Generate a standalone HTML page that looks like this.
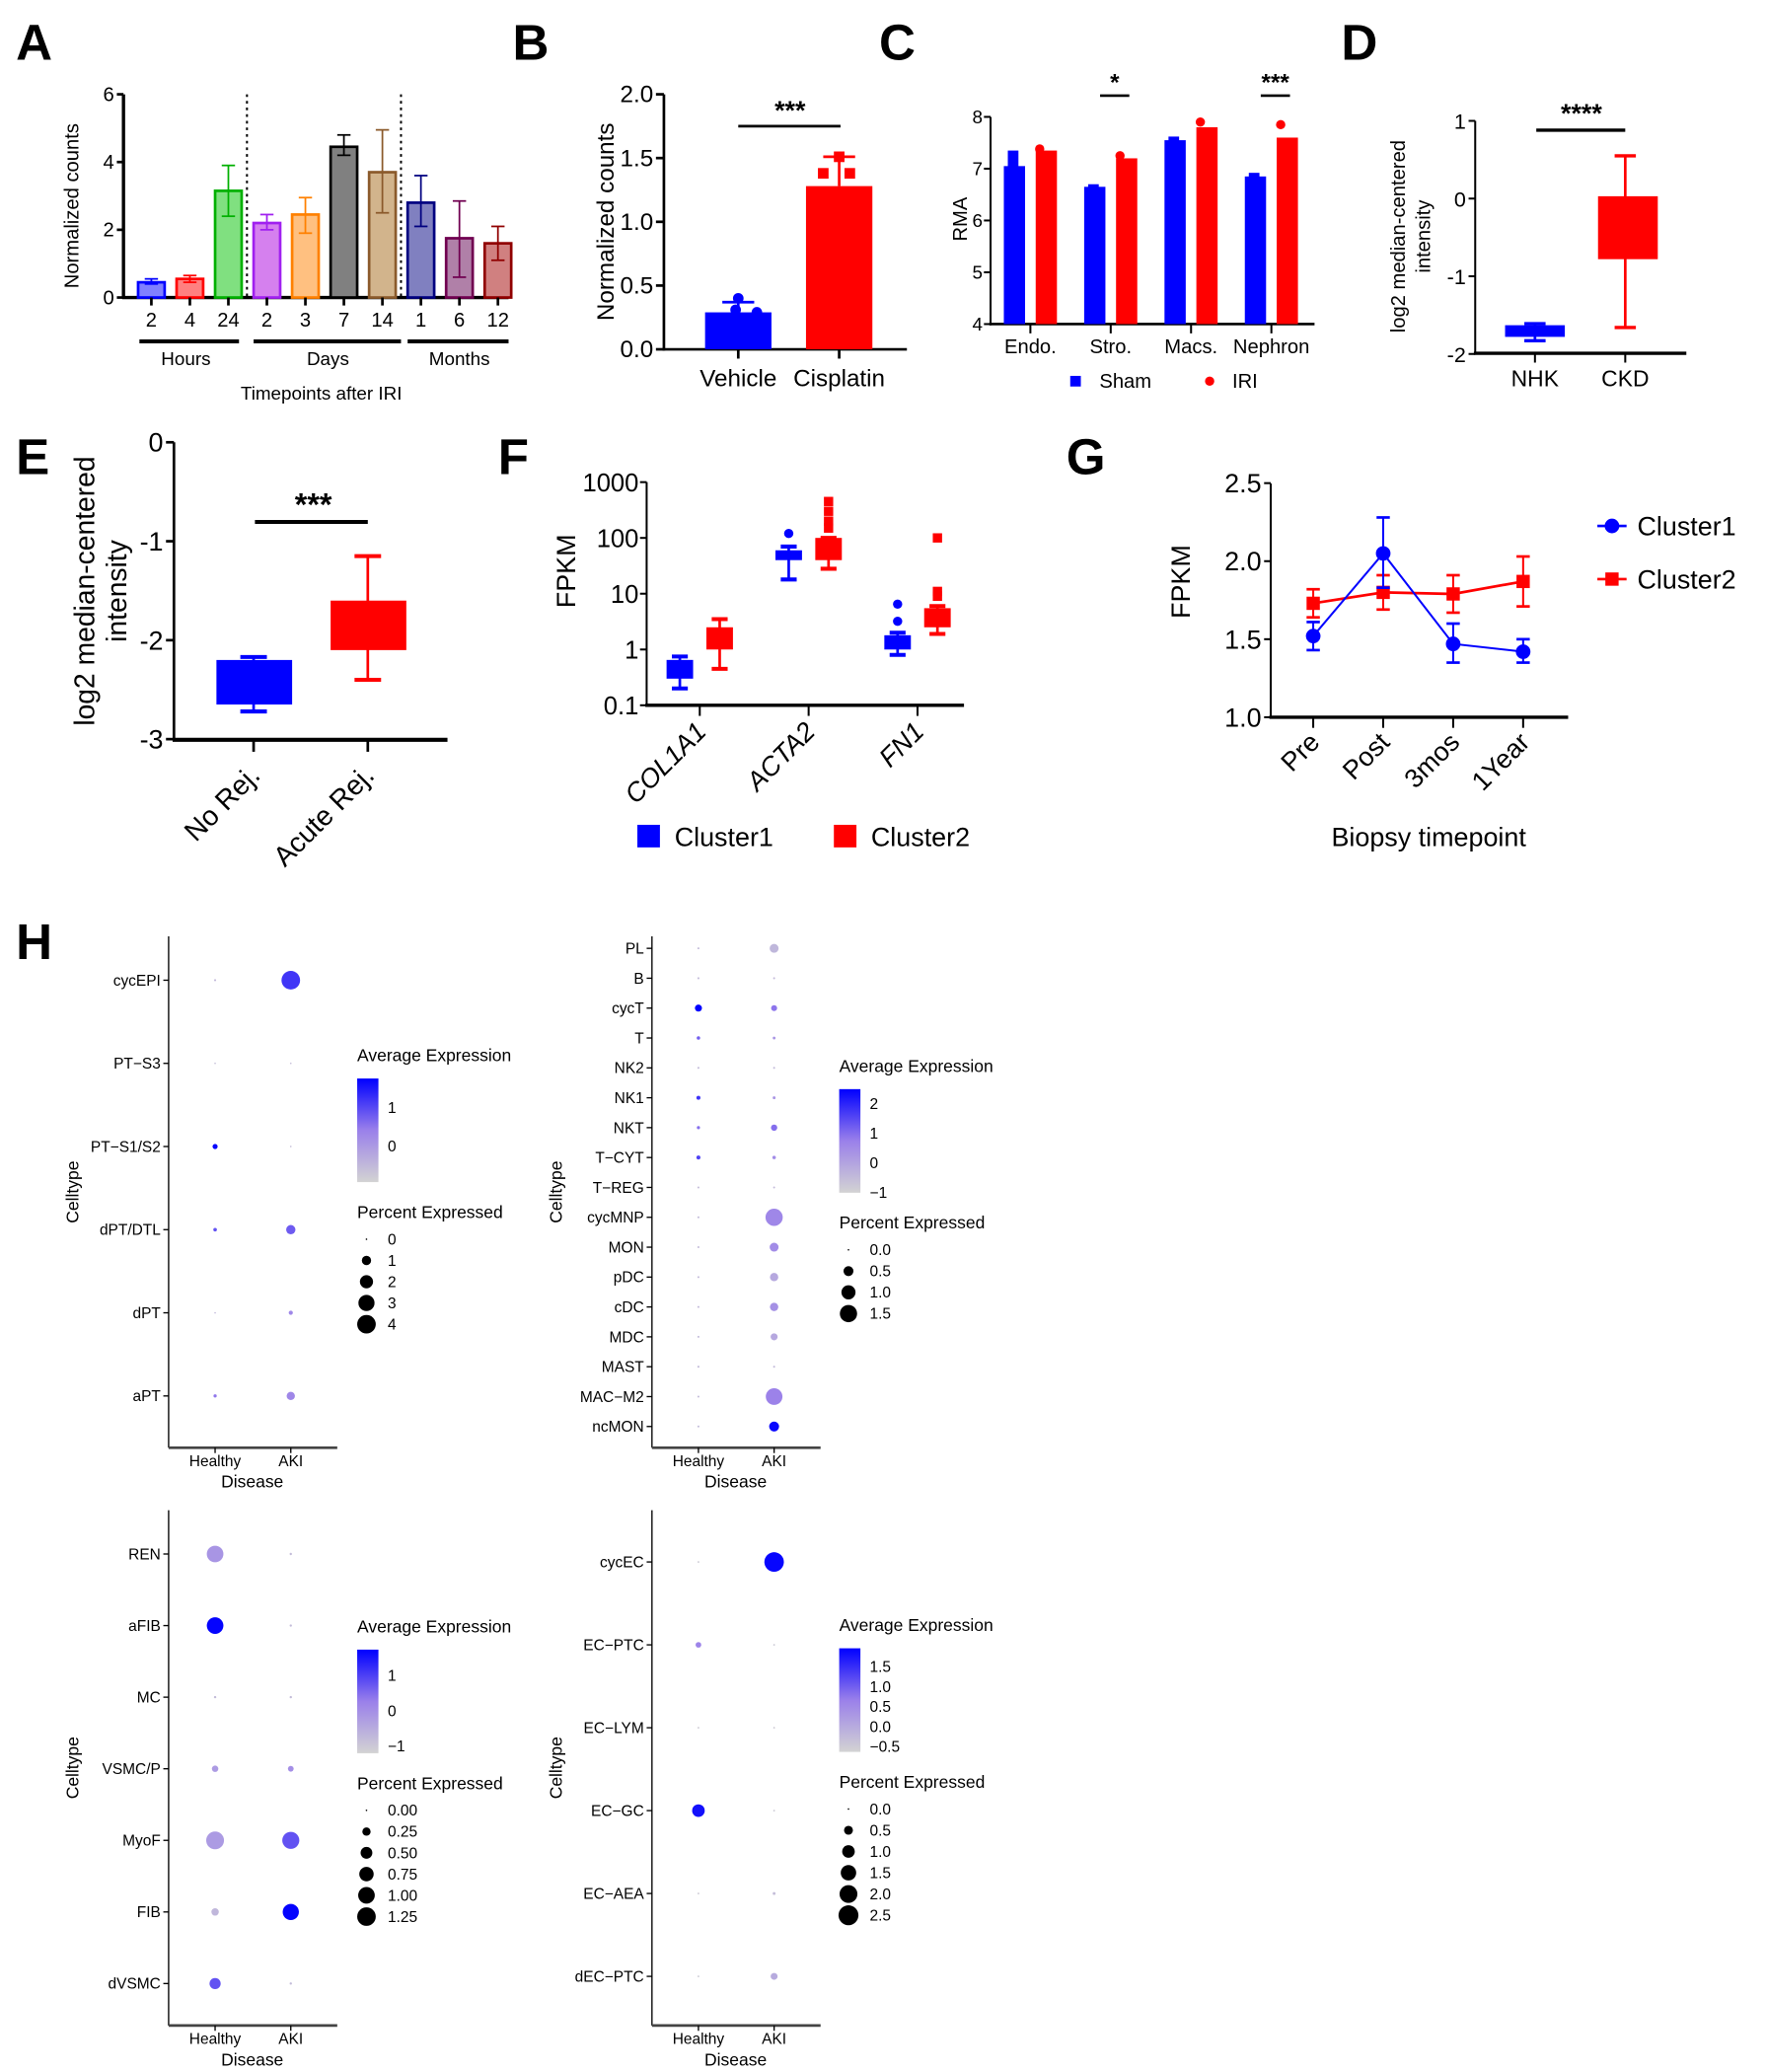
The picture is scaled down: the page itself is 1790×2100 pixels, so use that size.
<!DOCTYPE html>
<html><head><meta charset="utf-8">
<style>
html,body{margin:0;padding:0;background:#fff;}
svg{display:block;font-family:"Liberation Sans",sans-serif;}
.pl{font-weight:bold;font-size:38px;}
</style></head>
<body>
<svg id="fig" width="1790" height="2100" viewBox="0 0 1330 1560" preserveAspectRatio="none">
<rect x="0" y="0" width="1330" height="1560" fill="#fff"/>
<text class="pl" x="12" y="45">A</text>
<text class="pl" x="386" y="45">B</text>
<text class="pl" x="662" y="45">C</text>
<text class="pl" x="1010" y="45">D</text>
<text class="pl" x="12" y="357">E</text>
<text class="pl" x="375" y="357">F</text>
<text class="pl" x="803" y="357">G</text>
<text class="pl" x="12" y="722">H</text>

<text x="0" y="0" font-size="15" text-anchor="middle" transform="translate(59,155) rotate(-90)">Normalized counts</text>
<text x="140" y="275" font-size="14" text-anchor="middle">Hours</text>
<text x="247" y="275" font-size="14" text-anchor="middle">Days</text>
<text x="346" y="275" font-size="14" text-anchor="middle">Months</text>
<text x="242" y="301" font-size="14" text-anchor="middle">Timepoints after IRI</text>
<line x1="105" y1="257" x2="180" y2="257" stroke="#000" stroke-width="3"/>
<line x1="191" y1="257" x2="302" y2="257" stroke="#000" stroke-width="3"/>
<line x1="307" y1="257" x2="383" y2="257" stroke="#000" stroke-width="3"/>

<text x="0" y="0" font-size="18" text-anchor="middle" transform="translate(462,167) rotate(-90)">Normalized counts</text>
<text x="0" y="0" font-size="15" text-anchor="middle" transform="translate(728,165) rotate(-90)">RMA</text>
<text x="0" y="0" font-size="15" text-anchor="middle" transform="translate(1058,178) rotate(-90)">log2 median-centered</text>
<text x="0" y="0" font-size="15" text-anchor="middle" transform="translate(1077,178) rotate(-90)">intensity</text>
<text x="0" y="0" font-size="21" text-anchor="middle" transform="translate(71,445) rotate(-90)">log2 median-centered</text>
<text x="0" y="0" font-size="21" text-anchor="middle" transform="translate(95,445) rotate(-90)">intensity</text>
<text x="0" y="0" font-size="20" text-anchor="middle" transform="translate(433,430) rotate(-90)">FPKM</text>
<text x="0" y="0" font-size="20" text-anchor="middle" transform="translate(896,438) rotate(-90)">FPKM</text>
<text x="1076" y="637" font-size="20" text-anchor="middle">Biopsy timepoint</text>
</svg>
<script>
const NS='http://www.w3.org/2000/svg';
const svg=document.getElementById('fig');
function mk(tag,attrs){const e=document.createElementNS(NS,tag);for(const k in attrs)e.setAttribute(k,attrs[k]);svg.appendChild(e);return e;}
function tx(x,y,s,size,anchor,extra){const e=mk('text',Object.assign({x:x,y:y,'font-size':size,'text-anchor':anchor||'start'},extra||{}));e.textContent=s;return e;}
function ln(x1,y1,x2,y2,c,w){return mk('line',{x1:x1,y1:y1,x2:x2,y2:y2,stroke:c||'#000','stroke-width':w||1.5});}

// ===== Panel A data =====
const aCats=['2','4','24','2','3','7','14','1','6','12'];
const aMeans=[0.45,0.55,3.15,2.2,2.45,4.45,3.7,2.8,1.75,1.6];
const aLow=[0.4,0.45,2.4,2.0,1.9,4.2,2.5,2.1,0.6,1.1];
const aHigh=[0.55,0.65,3.9,2.45,2.95,4.8,4.95,3.6,2.85,2.1];
const aTicks=[0,2,4,6];
const aFill=['#8080ff','#ff8080','#80e080','#d580ee','#ffc080','#808080','#d2b48c','#8080c0','#b080a8','#d08080'];
const aEdge=['#0000ff','#ff0000','#00b000','#a020f0','#ff8000','#000000','#8b5a2b','#000080','#700050','#900000'];
const yA=v=>224-v*25.5;
const xA=i=>114+i*29;
ln(93,71,93,225,'#000',2.5);
ln(92,224,383,224,'#000',2.5);
aTicks.forEach(t=>{
  let l=ln(88,yA(t),93,yA(t),'#000',2);
  
  
  let e=tx(86,yA(t)+5,String(t),15,'end');
  
  
});
[186,302].forEach(x=>{let l=ln(x,71,x,224,'#000',1.5);l.setAttribute('stroke-dasharray','2,3');
  
  });
aCats.forEach((c,i)=>{
  const x=xA(i);
  let b=mk('rect',{x:x-10,y:yA(aMeans[i]),width:20,height:224-yA(aMeans[i]),fill:aFill[i],stroke:aEdge[i],'stroke-width':2});
  
  
  let e=ln(x,yA(aLow[i]),x,yA(aHigh[i]),aEdge[i],1.3);
  
  
  ln(x-5,yA(aHigh[i]),x+5,yA(aHigh[i]),aEdge[i],1.3);
  ln(x-5,yA(aLow[i]),x+5,yA(aLow[i]),aEdge[i],1.3);
  ln(x,224,x,230,'#000',2);
  let t=tx(x,246,c,15,'middle');
  
  
});

// ===== Panel B =====
const bCats=['Vehicle','Cisplatin'];
const bMeans=[0.29,1.28];
const bHigh=[0.37,1.51];
const bPtsV=[0.4,0.31,0.29];
const bPtsC=[1.51,1.38,1.38];
const bTicks=[0,0.5,1.0,1.5,2.0];
const bColors=['#0000ff','#ff0000'];
const yB=v=>263-v*96;
const xB=i=>556+i*76;
ln(500,71,500,264,'#000',2);
ln(499,263,683,263,'#000',2);
bTicks.forEach(t=>{
  ln(494,yB(t),500,yB(t),'#000',2);
  let e=tx(492,yB(t)+6,t.toFixed(1),18,'end');
  
  
});
bCats.forEach((c,i)=>{
  const x=xB(i);
  let b=mk('rect',{x:x-25,y:yB(bMeans[i]),width:50,height:263-yB(bMeans[i]),fill:bColors[i]});
  
  
  ln(x,yB(bMeans[i]),x,yB(bHigh[i]),bColors[i],2);
  ln(x-12,yB(bHigh[i]),x+12,yB(bHigh[i]),bColors[i],2);
  ln(x,263,x,270,'#000',2);
  let t=tx(x,291,c,18,'middle');
  
  
});
bPtsV.forEach((v,j)=>{let p=mk('circle',{cx:xB(0)+[0,-2,14][j],cy:yB(v),r:4,fill:'#0000ff'});
  
  });
bPtsC.forEach((v,j)=>{let p=mk('rect',{x:xB(1)+[0,-12,8][j]-4,y:yB(v)-4,width:8,height:8,fill:'#ff0000'});
  
  });
ln(556,95,633,95,'#000',2);
tx(595,90,'***',20,'middle',{'font-weight':'bold'});

// ===== Panel C =====
const cCats=['Endo.','Stro.','Macs.','Nephron'];
const cSham=[7.05,6.65,7.55,6.85];
const cShamHi=[7.35,6.7,7.62,6.92];
const cIri=[7.35,7.2,7.8,7.6];
const cIriPt=[7.38,7.25,7.9,7.85];
const cTicks=[4,5,6,7,8];
const yC=v=>244-(v-4)*39;
const xC=i=>776+i*60.5;
ln(746,88,746,245,'#000',1.5);
ln(745,244,990,244,'#000',2);
cTicks.forEach(t=>{
  ln(741,yC(t),746,yC(t),'#000',1.5);
  let e=tx(740,yC(t)+5,String(t),14,'end');
  
  
});
cCats.forEach((c,i)=>{
  const x=xC(i);
  let b=mk('rect',{x:x-20,y:yC(cSham[i]),width:16,height:244-yC(cSham[i]),fill:'#0000ff'});
  
  
  mk('rect',{x:x-17,y:yC(cShamHi[i]),width:8,height:yC(cSham[i])-yC(cShamHi[i])+1,fill:'#0000ff'});
  let r=mk('rect',{x:x+4,y:yC(cIri[i]),width:16,height:244-yC(cIri[i]),fill:'#ff0000'});
  
  
  let p=mk('circle',{cx:x+7,cy:yC(cIriPt[i]),r:3.5,fill:'#ff0000'});
  
  
  ln(x,244,x,251,'#000',1.5);
  let t=tx(x,266,c,15,'middle');
  
  
});
ln(xC(1)-8,72,xC(1)+14,72,'#000',2);
tx(xC(1)+3,68,'*',18,'middle',{'font-weight':'bold'});
ln(xC(3)-8,72,xC(3)+14,72,'#000',2);
tx(xC(3)+3,68,'***',18,'middle',{'font-weight':'bold'});
let cl1=mk('rect',{x:806,y:283,width:8,height:8,fill:'#0000ff'});


tx(828,292,'Sham',15,'start');
let cl2=mk('circle',{cx:911,cy:287,r:3.5,fill:'#ff0000'});


tx(928,292,'IRI',15,'start');

// ===== Panel D =====
const dCats=['NHK','CKD'];
const dQ1=[-1.78,-0.78];
const dQ3=[-1.63,0.03];
const dMin=[-1.83,-1.66];
const dMax=[-1.61,0.55];
const dTicks=[-2,-1,0,1];
const dColors=['#0000ff','#ff0000'];
const yD=v=>91+(1-v)*58.5;
const xD=i=>1156+i*68;
ln(1111,91,1111,267,'#000',1.5);
ln(1110,266,1270,266,'#000',2.5);
dTicks.forEach(t=>{
  ln(1106,yD(t),1111,yD(t),'#000',1.5);
  let e=tx(1104,yD(t)+6,String(t),16,'end');
  
  
});
dCats.forEach((c,i)=>{
  const x=xD(i);const w=i?45:45;
  ln(x,yD(dMin[i]),x,yD(dMax[i]),dColors[i],2);
  ln(x-8,yD(dMin[i]),x+8,yD(dMin[i]),dColors[i],2.5);
  ln(x-8,yD(dMax[i]),x+8,yD(dMax[i]),dColors[i],2.5);
  let b=mk('rect',{x:x-w/2+(i?2:0),y:yD(dQ3[i]),width:w,height:yD(dQ1[i])-yD(dQ3[i]),fill:dColors[i]});
  
  
  ln(x,266,x,273,'#000',1.5);
  let t=tx(x,291,c,17,'middle');
  
  
});
ln(1157,98,1224,98,'#000',2.5);
tx(1191,92,'****',20,'middle',{'font-weight':'bold'});

// ===== Panel E =====
const eCats=['No Rej.','Acute Rej.'];
const eQ1=[-2.65,-2.1];
const eQ3=[-2.2,-1.6];
const eMin=[-2.72,-2.4];
const eMax=[-2.17,-1.15];
const eTicks=[-3,-2,-1,0];
const eColors=['#0000ff','#ff0000'];
const yE=v=>333-v*74.5;
const xE=i=>191+i*86;
ln(131,333,131,558,'#000',2);
ln(130,557,337,557,'#000',3);
eTicks.forEach(t=>{
  ln(125,yE(t),131,yE(t),'#000',2);
  let e=tx(123,yE(t)+7,String(t),20,'end');
  
  
});
eCats.forEach((c,i)=>{
  const x=xE(i);
  ln(x,yE(eMin[i]),x,yE(eMax[i]),eColors[i],2);
  ln(x-10,yE(eMin[i]),x+10,yE(eMin[i]),eColors[i],3);
  ln(x-10,yE(eMax[i]),x+10,yE(eMax[i]),eColors[i],3);
  let b=mk('rect',{x:x-28,y:yE(eQ3[i]),width:57,height:yE(eQ1[i])-yE(eQ3[i]),fill:eColors[i]});
  
  
  ln(x,557,x,566,'#000',2);
  let t=tx(0,0,c,21,'end',{transform:'translate('+(x+6)+',585) rotate(-45)'});
  
  
});
ln(192,393,277,393,'#000',3);
tx(236,388,'***',24,'middle',{'font-weight':'bold'});

// ===== Panel F =====
const fCats=['COL1A1','ACTA2','FN1'];
const f1Q1=[0.3,40,1.0], f1Q3=[0.65,60,1.8], f1Min=[0.2,18,0.8], f1Max=[0.75,70,2.0];
const f2Q1=[1.0,40,2.5], f2Q3=[2.5,100,5.5], f2Min=[0.45,28,1.9], f2Max=[3.5,100,6.0];
const f1Out=[[],[120],[3.2,6.5]];
const f2Out=[[],[150,200,300,450],[9,11,100]];
const fTicks=[0.1,1,10,100,1000];
const fTickLabels=['0.1','1','10','100','1000'];
const yF=v=>531-(Math.log10(v)+1)*42;
const xF=i=>527+i*82;
ln(487,363,487,532,'#000',1.5);
ln(486,531,726,531,'#000',2.5);
fTicks.forEach((t,j)=>{
  ln(482,yF(t),487,yF(t),'#000',1.5);
  let e=tx(481,yF(t)+7,fTickLabels[j],19,'end');
  
  
});
function fbox(x,q1,q3,mn,mx,out,col,nm){
  ln(x,yF(mn),x,yF(mx),col,2);
  ln(x-6,yF(mn),x+6,yF(mn),col,3);
  ln(x-6,yF(mx),x+6,yF(mx),col,3);
  let b=mk('rect',{x:x-10,y:yF(q3),width:20,height:Math.max(yF(q1)-yF(q3),3),fill:col});
  
  
  out.forEach(v=>{let o=mk('rect',{x:x-3.5,y:yF(v)-3.5,width:7,height:7,rx:col==='#0000ff'?3.5:0,fill:col});
    
    });
}
fCats.forEach((c,i)=>{
  const x=xF(i);
  fbox(x-15,f1Q1[i],f1Q3[i],f1Min[i],f1Max[i],f1Out[i],'#0000ff','f-box-cluster1');
  fbox(x+15,f2Q1[i],f2Q3[i],f2Min[i],f2Max[i],f2Out[i],'#ff0000','f-box-cluster2');
  ln(x,531,x,539,'#000',1.5);
  let t=tx(0,0,c,20,'end',{'font-style':'italic',transform:'translate('+(x+6)+',552) rotate(-45)'});
  
  
});
let fl1=mk('rect',{x:480,y:621,width:17,height:17,fill:'#0000ff'});


tx(508,637,'Cluster1',20,'start');
let fl2=mk('rect',{x:628,y:621,width:17,height:17,fill:'#ff0000'});


tx(656,637,'Cluster2',20,'start');

// ===== Panel G =====
const gCats=['Pre','Post','3mos','1Year'];
const g1=[1.52,2.05,1.47,1.42];
const g1Lo=[1.43,1.83,1.35,1.35];
const g1Hi=[1.61,2.28,1.6,1.5];
const g2=[1.73,1.8,1.79,1.87];
const g2Lo=[1.64,1.69,1.67,1.71];
const g2Hi=[1.82,1.91,1.91,2.03];
const gTicks=[1.0,1.5,2.0,2.5];
const yG=v=>540-(v-1)*117.5;
const xG=i=>989+i*52.7;
ln(957,364,957,541,'#000',1.5);
ln(956,540,1181,540,'#000',2.5);
gTicks.forEach(t=>{
  ln(952,yG(t),957,yG(t),'#000',1.5);
  let e=tx(950,yG(t)+7,t.toFixed(1),20,'end');
  
  
});
function gSeries(vals,lo,hi,col,mark,nm){
  let pts=vals.map((v,i)=>xG(i)+','+yG(v)).join(' ');
  let pl=mk('polyline',{points:pts,fill:'none',stroke:col,'stroke-width':mark==='sq'?2:1.5});
  
  
  vals.forEach((v,i)=>{
    const x=xG(i);
    ln(x,yG(lo[i]),x,yG(hi[i]),col,1.5);
    ln(x-5,yG(lo[i]),x+5,yG(lo[i]),col,2);
    ln(x-5,yG(hi[i]),x+5,yG(hi[i]),col,2);
    let m=mark==='sq'?mk('rect',{x:x-5,y:yG(v)-5,width:10,height:10,fill:col}):mk('circle',{cx:x,cy:yG(v),r:5.5,fill:col});
    
    
  });
}
gSeries(g2,g2Lo,g2Hi,'#ff0000','sq','g-cluster2');
gSeries(g1,g1Lo,g1Hi,'#0000ff','ci','g-cluster1');
gCats.forEach((c,i)=>{
  const x=xG(i);
  ln(x,540,x,548,'#000',1.5);
  let t=tx(0,0,c,20,'end',{transform:'translate('+(x+6)+',560) rotate(-45)'});
  
  
});
ln(1203,396,1225,396,'#0000ff',2);
let gl1=mk('circle',{cx:1214,cy:396,r:5.5,fill:'#0000ff'});


tx(1233,403,'Cluster1',20,'start');
ln(1203,436,1225,436,'#ff0000',2);
let gl2=mk('rect',{x:1209,y:431,width:10,height:10,fill:'#ff0000'});


tx(1233,443,'Cluster2',20,'start');

// ===== Panel H dot plots =====
const hCols=['Healthy','AKI'];
const h1Rows=['cycEPI','PT\u2212S3','PT\u2212S1/S2','dPT/DTL','dPT','aPT'];
const h1PctH=[0.05,0.02,0.3,0.15,0.03,0.12];
const h1PctA=[4.0,0.03,0.03,1.0,0.2,0.8];
const h1ExpH=[-0.5,-0.6,1.7,0.9,-0.5,0.5];
const h1ExpA=[1.2,-0.6,-0.6,0.8,0.3,0.3];
const h2Rows=['PL','B','cycT','T','NK2','NK1','NKT','T\u2212CYT','T\u2212REG','cycMNP','MON','pDC','cDC','MDC','MAST','MAC\u2212M2','ncMON'];
const h2PctH=[0.02,0.02,0.25,0.06,0.02,0.08,0.05,0.08,0.02,0.02,0.02,0.02,0.02,0.02,0.02,0.02,0.02];
const h2PctA=[0.4,0.02,0.18,0.04,0.02,0.04,0.2,0.06,0.02,1.5,0.4,0.35,0.35,0.25,0.02,1.4,0.5];
const h2ExpH=[-0.5,-0.5,2.5,1.2,-0.5,1.8,1.0,1.6,-0.5,-0.5,-0.5,-0.5,-0.5,-0.5,-0.5,-0.5,-0.5];
const h2ExpA=[-0.4,-0.5,0.9,0.3,-0.5,0.3,1.0,0.5,-0.5,0.6,0.5,-0.1,0.4,-0.1,-0.5,0.7,2.4];
const h3Rows=['REN','aFIB','MC','VSMC/P','MyoF','FIB','dVSMC'];
const h3PctH=[1.0,1.0,0.02,0.15,1.15,0.2,0.45];
const h3PctA=[0.02,0.02,0.02,0.12,1.05,0.95,0.02];
const h3ExpH=[-0.1,1.7,-0.8,-0.2,-0.2,-0.7,0.8];
const h3ExpA=[-0.8,-0.8,-0.8,0.0,0.8,1.7,-0.8];
const h4Rows=['cycEC','EC\u2212PTC','EC\u2212LYM','EC\u2212GC','EC\u2212AEA','dEC\u2212PTC'];
const h4PctH=[0.02,0.2,0.02,1.0,0.02,0.02];
const h4PctA=[2.4,0.02,0.02,0.02,0.05,0.3];
const h4ExpH=[-0.5,0.6,-0.5,1.8,-0.5,-0.5];
const h4ExpA=[1.9,-0.5,-0.5,-0.5,-0.3,0.0];
const h1ExpTicks=[0,1], h2ExpTicks=[-1,0,1,2], h3ExpTicks=[-1,0,1], h4ExpTicks=[-0.5,0,0.5,1,1.5];
const h1PctTicks=[0,1,2,3,4], h2PctTicks=[0,0.5,1,1.5], h3PctTicks=[0,0.25,0.5,0.75,1,1.25], h4PctTicks=[0,0.5,1,1.5,2,2.5];

let gd=mk('defs',{});
let lg=document.createElementNS(NS,'linearGradient');
lg.setAttribute('id','hgrad');lg.setAttribute('x1','0');lg.setAttribute('y1','1');lg.setAttribute('x2','0');lg.setAttribute('y2','0');
[['0','#d3d3d3'],['0.5','#9a80ea'],['1','#0000ff']].forEach(s=>{const st=document.createElementNS(NS,'stop');st.setAttribute('offset',s[0]);st.setAttribute('stop-color',s[1]);lg.appendChild(st);});
gd.appendChild(lg);

function hcol(v,mn,mx){let t=Math.max(0,Math.min(1,(v-mn)/(mx-mn)));
  let r,g,b;
  if(t<0.5){let u=t/0.5;r=211+(154-211)*u;g=211+(128-211)*u;b=211+(234-211)*u;}
  else{let u=(t-0.5)/0.5;r=154*(1-u);g=128*(1-u);b=234+(255-234)*u;}
  return 'rgb('+Math.round(r)+','+Math.round(g)+','+Math.round(b)+')';}

function dotplot(cfg){
  const {ax,top,bot,rowY,rows,pH,pA,eH,eA,eMin,eMax,pMax,rMax,lx,ly,expTicks,pctTicks,fmt,pfmt,id}=cfg;
  const cx=[ax+35,ax+92];
  ln(ax,top,ax,bot,'#000',1);
  ln(ax,bot,ax+127,bot,'#444',2);
  rows.forEach((r,i)=>{
    const y=rowY(i);
    ln(ax-4,y,ax,y,'#000',1);
    let t=tx(ax-6,y+4,r,11.5,'end');
    
    
    [[pH,eH],[pA,eA]].forEach((d,k)=>{
      const rr=Math.max(0.6,rMax*Math.sqrt(d[0][i]/pMax));
      let c=mk('circle',{cx:cx[k],cy:y,r:rr,fill:hcol(d[1][i],eMin,eMax)});
      
      
    });
  });
  hCols.forEach((c,k)=>{ln(cx[k],bot,cx[k],bot+4,'#000',1);
    let t=tx(cx[k],bot+14,c,11.5,'middle');
    
    });
  tx(ax+63,bot+30,'Disease',13,'middle');
  let ct=tx(0,0,'Celltype',13,'middle',{transform:'translate('+(ax-68)+','+((top+bot)/2)+') rotate(-90)'});
  
  
  tx(lx,ly,'Average Expression',13,'start');
  const bt=ly+13,bb=ly+91;
  let bar=mk('rect',{x:lx,y:bt,width:16,height:bb-bt,fill:'url(#hgrad)'});
  
  
  expTicks.forEach(t=>{const y=bb-(t-eMin)/(eMax-eMin)*(bb-bt);
    let e=tx(lx+23,y+4,fmt(t),11.5,'start');
    
    });
  tx(lx,ly+118,'Percent Expressed',13,'start');
  pctTicks.forEach((p,j)=>{const y=ly+134+j*16;
    let c=mk('circle',{cx:lx+7,cy:y,r:Math.max(0.6,rMax*Math.sqrt(p/pMax)),fill:'#000'});
    
    
    let e=tx(lx+23,y+4,pfmt(p),11.5,'start');
    
    });
}
const neg=s=>s.replace('-','\u2212');
dotplot({id:'h-epi',ax:127,top:705,bot:1090,rowY:i=>738+i*62.6,rows:h1Rows,pH:h1PctH,pA:h1PctA,eH:h1ExpH,eA:h1ExpA,eMin:-0.93,eMax:1.76,pMax:4,rMax:7,lx:269,ly:799,expTicks:h1ExpTicks,pctTicks:h1PctTicks,fmt:t=>neg(String(t)),pfmt:p=>String(p)});
dotplot({id:'h-immune',ax:491,top:705,bot:1090,rowY:i=>714+i*22.5,rows:h2Rows,pH:h2PctH,pA:h2PctA,eH:h2ExpH,eA:h2ExpA,eMin:-1,eMax:2.5,pMax:1.5,rMax:6.5,lx:632,ly:807,expTicks:h2ExpTicks,pctTicks:h2PctTicks,fmt:t=>neg(String(t)),pfmt:p=>p.toFixed(1)});
dotplot({id:'h-stroma',ax:127,top:1137,bot:1525,rowY:i=>1170+i*53.9,rows:h3Rows,pH:h3PctH,pA:h3PctA,eH:h3ExpH,eA:h3ExpA,eMin:-1.2,eMax:1.74,pMax:1.25,rMax:7,lx:269,ly:1229,expTicks:h3ExpTicks,pctTicks:h3PctTicks,fmt:t=>neg(String(t)),pfmt:p=>p.toFixed(2)});
dotplot({id:'h-endo',ax:491,top:1137,bot:1525,rowY:i=>1176+i*62.4,rows:h4Rows,pH:h4PctH,pA:h4PctA,eH:h4ExpH,eA:h4ExpA,eMin:-0.63,eMax:1.96,pMax:2.5,rMax:7.5,lx:632,ly:1228,expTicks:h4ExpTicks,pctTicks:h4PctTicks,fmt:t=>neg(t.toFixed(1)),pfmt:p=>p.toFixed(1)});
</script>
</body></html>
